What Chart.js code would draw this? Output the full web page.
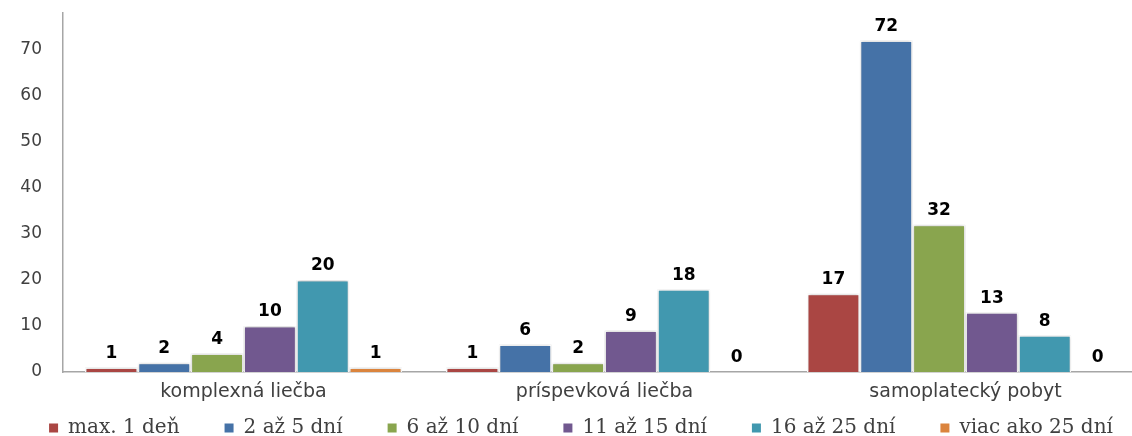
<!DOCTYPE html>
<html>
<head>
<meta charset="utf-8">
<script src="https://cdn.jsdelivr.net/npm/chart.js@4/dist/chart.umd.min.js"></script>
<style>
  html, body { margin: 0; padding: 0; background: #fff; overflow: hidden; }
  #wrap { width: 1150px; height: 436px; }
</style>
</head>
<body>
<div id="wrap"><canvas id="c" width="1150" height="436"></canvas></div>
<script>
// kategórie a série (hodnoty odčítané z grafu)
const categories = ['komplexná liečba', 'príspevková liečba', 'samoplatecký pobyt'];
const seriesNames = ['max. 1 deň', '2 až 5 dní', '6 až 10 dní', '11 až 15 dní', '16 až 25 dní', 'viac ako 25 dní'];
const max1Den   = [1, 1, 17];
const dni2az5   = [2, 6, 72];
const dni6az10  = [4, 2, 32];
const dni11az15 = [10, 9, 13];
const dni16az25 = [20, 18, 8];
const viacAko25 = [1, 0, 0];
const yTicks = [0, 10, 20, 30, 40, 50, 60, 70];

const seriesValues = [max1Den, dni2az5, dni6az10, dni11az15, dni16az25, viacAko25];
const colors = ['#AA4643', '#4572A7', '#89A54E', '#71588F', '#4198AF', '#DB843D'];

const AXIS_GREY = '#a6a6a6';
const TEXT_GREY = '#404040';
const LEGEND_FONT = '20px "DejaVu Serif"';

// jemný tieň pod stĺpcami
const barShadow = {
  id: 'barShadow',
  beforeDatasetsDraw(chart) {
    const ctx = chart.ctx;
    ctx.save();
    ctx.shadowColor = 'rgba(0,0,0,0.28)';
    ctx.shadowBlur = 3;
  },
  afterDatasetsDraw(chart) {
    chart.ctx.restore();
  }
};

// popisky hodnôt nad stĺpcami
const valueLabels = {
  id: 'valueLabels',
  afterDatasetsDraw(chart) {
    const ctx = chart.ctx;
    ctx.save();
    ctx.font = 'bold 17px "DejaVu Sans"';
    ctx.fillStyle = '#000';
    ctx.textAlign = 'center';
    ctx.textBaseline = 'middle';
    chart.data.datasets.forEach((ds, i) => {
      chart.getDatasetMeta(i).data.forEach((bar, j) => {
        ctx.fillText(String(ds.data[j]), bar.x, bar.y - 14);
      });
    });
    ctx.restore();
  }
};

// legenda dole (vlastné rozostupy)
const bottomLegend = {
  id: 'bottomLegend',
  afterDraw(chart) {
    const ctx = chart.ctx;
    ctx.save();
    ctx.font = LEGEND_FONT;
    ctx.textBaseline = 'middle';
    const box = 9, gapText = 10, gapItem = 45;
    const items = chart.data.datasets.map(ds => ({
      text: ds.label, color: ds.backgroundColor, w: ctx.measureText(ds.label).width
    }));
    const total = items.reduce((s, it) => s + box + gapText + it.w, 0) + gapItem * (items.length - 1);
    let x = chart.width / 2 + 6 - total / 2;
    const y = chart.height - 8;
    items.forEach(it => {
      ctx.fillStyle = it.color;
      ctx.fillRect(x, y - box / 2, box, box);
      ctx.fillStyle = TEXT_GREY;
      ctx.fillText(it.text, x + box + gapText, y);
      x += box + gapText + it.w + gapItem;
    });
    ctx.restore();
  }
};

const datasets = seriesNames.map((name, i) => ({
  label: name,
  data: seriesValues[i],
  backgroundColor: colors[i],
  borderColor: '#ffffff',
  borderWidth: 1.5,
  categoryPercentage: 0.878,
  barPercentage: 1.0
}));

new Chart(document.getElementById('c'), {
  type: 'bar',
  data: { labels: categories, datasets },
  options: {
    responsive: false,
    animation: false,
    layout: { padding: { top: 13, right: 4, bottom: 34, left: 0 } },
    plugins: {
      legend: { display: false },
      tooltip: { enabled: false }
    },
    scales: {
      x: {
        grid: { display: false, drawTicks: false },
        border: { display: true, color: AXIS_GREY, width: 1.5 },
        ticks: {
          color: TEXT_GREY,
          font: { family: 'DejaVu Sans', size: 19 },
          padding: 9
        },
        afterFit(scale) {
          scale.height = 30;
          scale.paddingLeft = 0;
          scale.paddingRight = 0;
        }
      },
      y: {
        min: 0,
        max: 78,
        grid: { display: false, drawTicks: false },
        border: { display: true, color: AXIS_GREY, width: 1.5 },
        afterBuildTicks(scale) {
          scale.ticks = yTicks.map(v => ({ value: v }));
        },
        ticks: {
          color: TEXT_GREY,
          font: { family: 'DejaVu Sans', size: 17 },
          padding: 21
        },
        afterFit(scale) {
          scale.width = 63;
          scale.paddingTop = 0;
          scale.paddingBottom = 0;
        }
      }
    }
  },
  plugins: [barShadow, valueLabels, bottomLegend]
});
</script>
</body>
</html>
